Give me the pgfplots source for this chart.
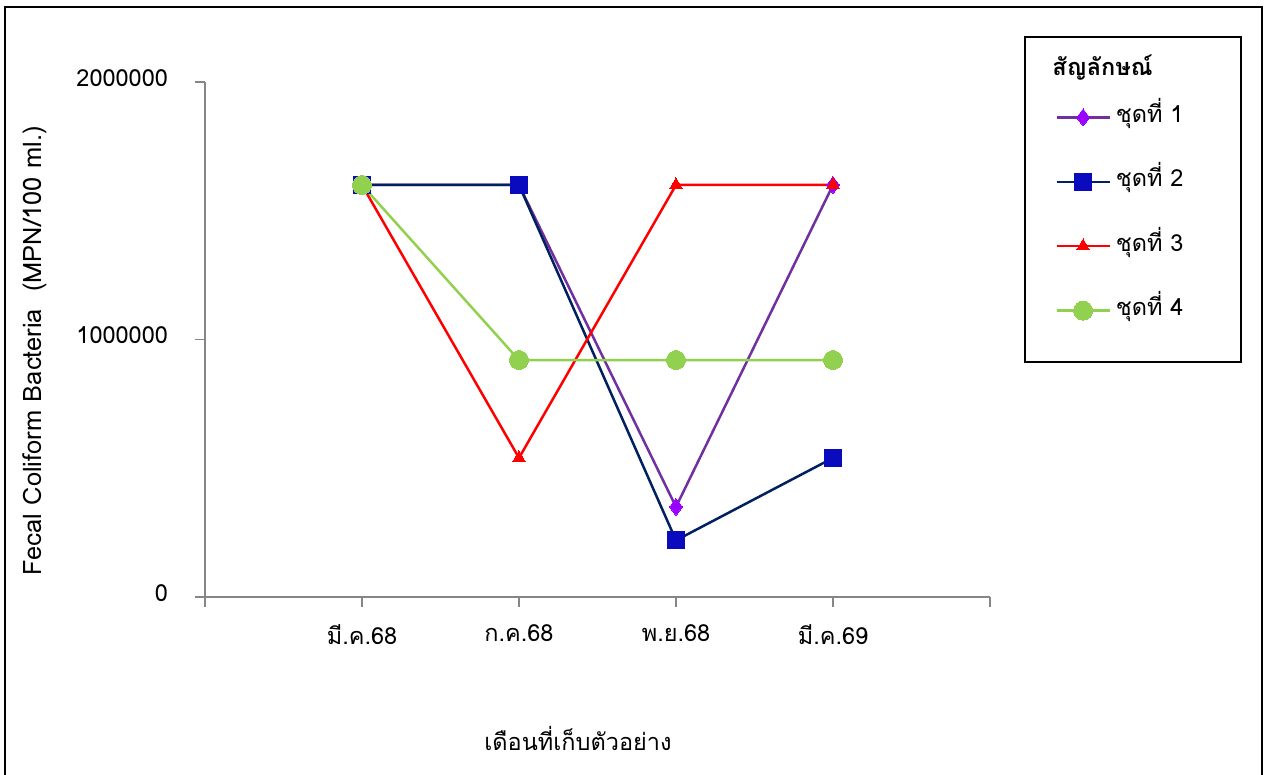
\documentclass[border=0pt]{standalone}
\usepackage{fontspec}
\setmainfont{Loma}[Script=Thai]
\usepackage{pgfplots}
\pgfplotsset{compat=1.18}

\definecolor{axisgray}{HTML}{868686}
\definecolor{s1line}{HTML}{7030A0}
\definecolor{s1mark}{HTML}{9900FF}
\definecolor{s2line}{HTML}{002060}
\definecolor{s2mark}{HTML}{0A0ABF}
\definecolor{s3}{HTML}{FF0000}
\definecolor{s4}{HTML}{92D050}

\newcommand{\chartfont}{\fontsize{11.75}{13.5}\selectfont}

\begin{document}
\begin{tikzpicture}
% page = 1269 x 775 px, 1 px = 0.5pt, axis box from (205,597) to (990,82) px
\useasboundingbox (-102.5pt,-89pt) rectangle (532pt,298.5pt);
\begin{axis}[
    at={(0pt,0pt)}, anchor=south west,
    scale only axis,
    width=392.5pt, height=257.5pt,
    xmin=0, xmax=5,
    ymin=0, ymax=2000000,
    axis lines*=left,
    axis line style={draw=axisgray, line width=0.75pt},
    tick style={draw=axisgray, line width=0.75pt},
    tick align=outside,
    major tick length=5pt,
    xtick={0,1,2,3,4,5},
    xticklabels={,มี.ค.68,ก.ค.68,พ.ย.68,มี.ค.69,},
    ytick={0,1000000,2000000},
    yticklabels={0,1000000,2000000},
    scaled y ticks=false,
    tick label style={font=\chartfont},
    xticklabel style={yshift=-5.5pt},
    yticklabel style={xshift=-10pt, yshift=2pt},
    xlabel={เดือนที่เก็บตัวอย่าง},
    ylabel={Fecal Coliform Bacteria\ \ (MPN/100 ml.)},
    label style={font=\chartfont},
    xlabel style={at={(axis description cs:0.4752,-0.2738)}, anchor=center},
    ylabel style={at={(axis description cs:-0.2166,0.4777)}, anchor=center,
        font=\fontsize{12.7}{14}\selectfont},
    clip=false,
    legend cell align=left,
    legend image code/.code={
        \draw[mark repeat=2,mark phase=2] plot coordinates {(0pt,0pt) (13.25pt,0pt) (26.5pt,0pt)};
    },
    legend style={
        at={(axis cs:5.414,1906800)}, anchor=north west,
        draw=none, fill=none, inner sep=0pt,
        font=\chartfont, row sep=21.2pt, column sep=2.5pt,
        nodes={inner sep=0pt, text height=8pt, text depth=3pt},
    },
]
\addplot[color=s1line, line width=1.25pt, mark=diamond*, mark size=4.25pt,
    mark options={fill=s1mark, draw=s1mark, line width=0pt}]
    coordinates {(1,1600000) (2,1600000) (3,350000) (4,1600000)};
\addlegendentry{ชุดที่ 1}
\addplot[color=s2line, line width=1.25pt, mark=square*, mark size=4.25pt,
    mark options={fill=s2mark, draw=s2mark, line width=0pt}]
    coordinates {(1,1600000) (2,1600000) (3,220000) (4,540000)};
\addlegendentry{ชุดที่ 2}
\addplot[color=s3, line width=1.25pt, mark=triangle*, mark size=3.6pt,
    mark options={fill=s3, draw=s3, line width=0pt}]
    coordinates {(1,1600000) (2,540000) (3,1600000) (4,1600000)};
\addlegendentry{ชุดที่ 3}
\addplot[color=s4, line width=1.25pt, mark=*, mark size=4.75pt,
    mark options={fill=s4, draw=s4, line width=0pt}]
    coordinates {(1,1600000) (2,920000) (3,920000) (4,920000)};
\addlegendentry{ชุดที่ 4}
\end{axis}
% legend frame and title
\draw[black, line width=0.8pt] (410pt,280pt) rectangle (518pt,117.5pt);
\node[anchor=west, inner sep=0pt, font=\chartfont\bfseries] at (423.5pt,264.5pt) {สัญลักษณ์};
% outer chart frame
\draw[black, line width=1pt] (-100pt,-89pt) -- (-100pt,295pt) -- (528.5pt,295pt) -- (528.5pt,-89pt);
\end{tikzpicture}
\end{document}
